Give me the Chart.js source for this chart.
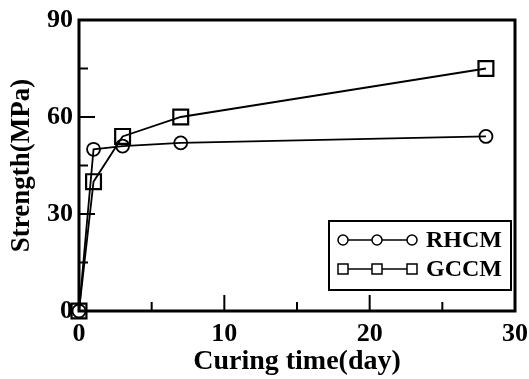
<!DOCTYPE html>
<html><head><meta charset="utf-8">
<script src="https://cdn.jsdelivr.net/npm/chart.js@4/dist/chart.umd.min.js"></script>
<style>html,body{margin:0;padding:0;background:#fff}#wrap{width:529px;height:379px}</style>
</head><body><div id="wrap"><canvas id="c" width="529" height="379"></canvas></div>
<script>
const days = [0, 1, 3, 7, 28];
const rhcm = [0, 50, 51, 52, 54];
const gccm = [0, 40, 54, 60, 75];
const seriesNames = ['RHCM', 'GCCM'];
const xMajor = [0, 10, 20, 30];
const xMinor = [5, 15, 25];
const yMajor = [0, 30, 60, 90];
const yMinor = [15, 45, 75];
const FONT = '"Liberation Serif", "Times New Roman", serif';

const decor = {
  id: 'decor',
  afterDatasetsDraw(chart) {
    const {ctx, chartArea: a, scales: {x, y}} = chart;
    ctx.save();
    ctx.strokeStyle = '#000';
    ctx.lineWidth = 2;
    ctx.beginPath();
    xMajor.forEach(v => { const p = x.getPixelForValue(v); ctx.moveTo(p, a.bottom); ctx.lineTo(p, a.bottom - 16); });
    xMinor.forEach(v => { const p = x.getPixelForValue(v); ctx.moveTo(p, a.bottom); ctx.lineTo(p, a.bottom - 9); });
    yMajor.forEach(v => { const p = y.getPixelForValue(v); ctx.moveTo(a.left, p); ctx.lineTo(a.left + 16, p); });
    yMinor.forEach(v => { const p = y.getPixelForValue(v); ctx.moveTo(a.left, p); ctx.lineTo(a.left + 9, p); });
    ctx.stroke();
    ctx.lineWidth = 3;
    ctx.strokeRect(a.left, a.top, a.right - a.left, a.bottom - a.top);
    // legend
    const lx = 329, ly = 221, lw = 182, lh = 69;
    ctx.lineWidth = 2;
    ctx.strokeRect(lx, ly, lw, lh);
    const rows = [ly + 19, ly + 48];
    ctx.font = 'bold 24px ' + FONT;
    ctx.textBaseline = 'middle';
    ctx.fillStyle = '#000';
    chart.data.datasets.forEach((ds, i) => {
      const yy = rows[i];
      ctx.lineWidth = 1.5;
      ctx.beginPath(); ctx.moveTo(343, yy); ctx.lineTo(412, yy); ctx.stroke();
      [343, 377, 412].forEach(px => {
        ctx.beginPath();
        ctx.fillStyle = '#fff';
        if (ds.pointStyle === 'circle') { ctx.arc(px, yy, 5, 0, Math.PI * 2); }
        else { ctx.rect(px - 5, yy - 5, 10, 10); }
        ctx.fill(); ctx.stroke();
      });
      ctx.fillStyle = '#000';
      ctx.fillText(ds.label, 426, yy + 1);
    });
    ctx.restore();
  }
};

new Chart(document.getElementById('c'), {
  type: 'line',
  data: {
    datasets: [
      { label: seriesNames[0], data: days.map((d, i) => ({x: d, y: rhcm[i]})), borderColor: '#000', borderWidth: 1.8,
        pointStyle: 'circle', pointRadius: 6.5, pointBorderWidth: 1.8, pointBackgroundColor: 'rgba(255,255,255,0)', pointBorderColor: '#000', clip: false },
      { label: seriesNames[1], data: days.map((d, i) => ({x: d, y: gccm[i]})), borderColor: '#000', borderWidth: 1.8,
        pointStyle: 'rect', pointRadius: 10.5, pointBorderWidth: 2.2, pointBackgroundColor: 'rgba(255,255,255,0)', pointBorderColor: '#000', clip: false }
    ]
  },
  options: {
    responsive: false, animation: false,
    layout: { padding: { left: 0, top: 20, right: 14, bottom: 0 } },
    plugins: { legend: { display: false }, tooltip: { enabled: false } },
    scales: {
      x: { type: 'linear', min: 0, max: 30,
        afterFit(s) { s.height = 68; },
        grid: { display: false }, border: { display: false },
        ticks: { stepSize: 10, color: '#000', font: { family: FONT, size: 26, weight: 'bold' }, padding: 0 },
        title: { display: true, text: 'Curing time(day)', color: '#000', font: { family: FONT, size: 28, weight: 'bold' }, padding: { top: 0, bottom: 0 } } },
      y: { type: 'linear', min: 0, max: 90,
        afterFit(s) { s.width = 79; },
        grid: { display: false }, border: { display: false },
        ticks: { stepSize: 30, color: '#000', font: { family: FONT, size: 26, weight: 'bold' }, padding: -2 },
        title: { display: true, text: 'Strength(MPa)', color: '#000', font: { family: FONT, size: 27, weight: 'bold' }, padding: { top: 6, bottom: 0 } } }
    }
  },
  plugins: [decor]
});
</script></body></html>
